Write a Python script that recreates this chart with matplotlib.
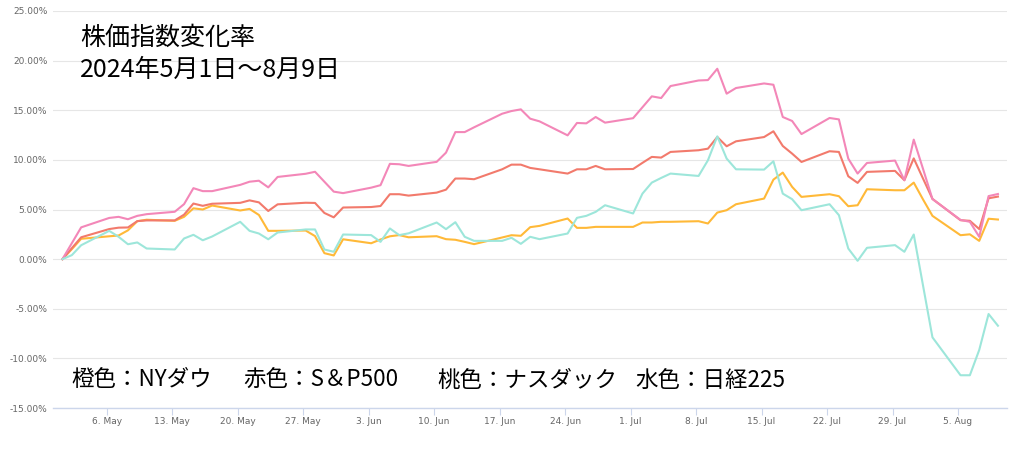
import matplotlib
matplotlib.use('Agg')
import matplotlib.pyplot as plt
import numpy as np
import pandas as pd

# weekdays 2024-05-01 .. 2024-08-09
dates = pd.bdate_range('2024-05-01', '2024-08-09')

# % change since May 1 (May / Jun / Jul / Aug rows)
nydow = ([0, 1.0, 2.05, 2.3, 2.38, 2.9, 3.82, 3.97, 3.86, 4.26, 5.12, 5.0, 5.4, 4.9, 5.06, 4.45, 2.85, 2.85, 2.88, 2.32, 0.6, 0.37, 2.0]
         + [1.6, 1.98, 2.3, 2.42, 2.2, 2.31, 2.01, 1.95, 1.74, 1.51, 2.18, 2.41, 2.35, 3.22, 3.35, 4.09, 3.15, 3.15, 3.25, 3.25]
         + [3.25, 3.69, 3.69, 3.76, 3.76, 3.82, 3.59, 4.69, 4.93, 5.53, 6.1, 8.01, 8.72, 7.28, 6.27, 6.54, 6.34, 5.33, 5.43, 7.04, 6.94, 6.94, 7.71]
         + [6.0, 4.36, 2.41, 2.5, 1.84, 4.07, 3.99])
sp500 = ([0, 1.1, 2.2, 3.03, 3.17, 3.19, 3.83, 3.9, 3.9, 4.48, 5.6, 5.37, 5.58, 5.67, 5.92, 5.72, 4.85, 5.52, 5.68, 5.66, 4.65, 4.21, 5.2]
         + [5.25, 5.35, 6.54, 6.54, 6.4, 6.7, 7.0, 8.12, 8.12, 8.05, 9.05, 9.52, 9.52, 9.19, 9.05, 8.62, 9.05, 9.05, 9.39, 9.05]
         + [9.08, 9.7, 10.3, 10.23, 10.8, 10.97, 11.13, 12.3, 11.37, 11.87, 12.3, 12.88, 11.4, 10.63, 9.79, 10.87, 10.8, 8.35, 7.68, 8.79, 8.89, 7.95, 10.15]
         + [8.1, 6.07, 3.92, 3.86, 3.03, 6.13, 6.3])
nasdaq = ([0, 1.6, 3.2, 4.15, 4.26, 4.02, 4.36, 4.53, 4.77, 5.54, 7.15, 6.85, 6.85, 7.48, 7.8, 7.9, 7.23, 8.28, 8.6, 8.8, 7.8, 6.8, 6.65]
          + [7.2, 7.45, 9.6, 9.56, 9.39, 9.8, 10.73, 12.8, 12.8, 13.28, 14.65, 14.92, 15.09, 14.15, 13.88, 12.47, 13.72, 13.68, 14.32, 13.75]
          + [14.2, 15.3, 16.4, 16.23, 17.44, 18.0, 18.04, 19.18, 16.67, 17.24, 17.7, 17.57, 14.32, 13.92, 12.6, 14.22, 14.08, 10.13, 8.62, 9.69, 9.93, 7.95, 12.04]
          + [9.07, 6.05, 3.95, 3.76, 2.25, 6.35, 6.56])
nikkei = ([0, 0.4, 1.4, 2.85, 2.25, 1.5, 1.68, 1.07, 0.97, 2.08, 2.45, 1.9, 2.28, 3.76, 2.85, 2.58, 2.0, 2.68, 2.99, 2.99, 0.97, 0.74, 2.48]
          + [2.42, 1.74, 3.09, 2.42, 2.6, 3.69, 3.02, 3.72, 2.25, 1.84, 1.84, 2.15, 1.54, 2.25, 2.01, 2.58, 4.16, 4.36, 4.76, 5.43]
          + [4.6, 6.6, 7.71, 8.18, 8.62, 8.38, 9.96, 12.37, 10.13, 9.05, 9.02, 9.86, 6.6, 6.04, 4.93, 5.53, 4.43, 1.07, -0.17, 1.14, 1.41, 0.74, 2.48]
          + [-2.7, -7.88, -11.7, -11.7, -9.15, -5.53, -6.71])

yticks = [-15, -10, -5, 0, 5, 10, 15, 20, 25]
xticks = pd.date_range('2024-05-06', '2024-08-05', freq='7D')

title1 = '株価指数変化率'
title2 = '2024年5月1日～8月9日'
legend_items = ['橙色：NYダウ', '赤色：S＆P500', '桃色：ナスダック', '水色：日経225']

jp = ['Noto Sans CJK JP', 'DejaVu Sans']

fig = plt.figure(figsize=(10.24, 4.5), dpi=100)
ax = fig.add_axes([53/1024, 42/450, 954/1024, 397/450])

x = dates + pd.Timedelta(hours=6.5)
ax.plot(x, nydow, color='#ffb938', lw=1.5)
ax.plot(x, sp500, color='#f27a6c', lw=1.5)
ax.plot(x, nasdaq, color='#f387b8', lw=1.5)
ax.plot(x, nikkei, color='#9de6da', lw=1.5)

ax.set_ylim(-15, 25)
ax.set_xlim(pd.Timestamp('2024-04-30 06:15'), pd.Timestamp('2024-08-10 05:45'))
ax.set_yticks(yticks)
ax.set_yticklabels(['%.2f%%' % v for v in yticks])
ax.set_xticks(xticks)
ax.set_xticklabels(['%d. %s' % (d.day, d.strftime('%b')) for d in xticks])

ax.grid(axis='y', color='#e6e6e6', lw=0.8)
ax.set_axisbelow(True)
for s in ['top', 'right', 'left']:
    ax.spines[s].set_visible(False)
ax.spines['bottom'].set_color('#ccd6eb')
ax.spines['bottom'].set_linewidth(1)
ax.tick_params(axis='y', length=0, pad=4, labelsize=6.5, labelcolor='#666666')
ax.tick_params(axis='x', length=5, width=0.8, color='#ccd6eb', pad=1.5,
               labelsize=6.5, labelcolor='#666666')

fig.text(80/1024, 1 - 38/450, title1, fontsize=18, family=jp, va='center', ha='left')
fig.text(80/1024, 1 - 70/450, title2, fontsize=18, family=jp, va='center', ha='left')

leg_x = [71, 243, 437, 635]
for px, s in zip(leg_x, legend_items):
    fig.text(px/1024, 1 - 380/450, s, fontsize=16.2, family=jp, va='center', ha='left')

fig.savefig('out.png', dpi=100)
